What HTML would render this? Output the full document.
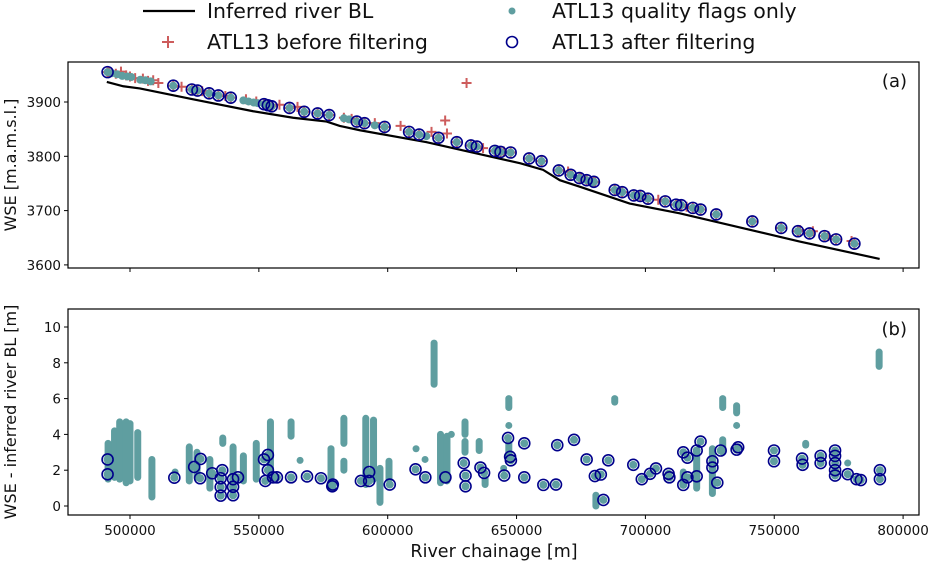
<!DOCTYPE html>
<html><head><meta charset="utf-8"><style>
body{margin:0;background:#fff;}
svg{display:block;font-family:"DejaVu Sans","Liberation Sans",sans-serif;}
</style></head><body>
<svg id="c" width="928" height="562" viewBox="0 0 928 562"></svg>
<script>
// ---- data ----
const blCh=[491000,497400,503800,524500,547800,563300,576300,581400,589200,615100,651500,660300,666800,674500,693900,713300,759900,790900];
const blWse=[3937,3929,3925,3905,3883,3871,3864,3856,3848,3826,3787,3775,3756,3744,3713,3695,3643,3611];
const afterCh=[491300,516800,524000,526200,530700,534300,539100,552000,553500,555000,561900,567600,572800,577300,588000,591000,598800,608300,612200,619700,626800,632300,634600,641600,643800,647700,654900,659700,666400,671000,674400,677200,680000,688100,691000,695500,698000,701000,707700,711900,713900,718400,721400,727500,741500,752700,759200,763700,769500,774000,781100];
const afterWse=[3955,3930,3923,3921,3916,3912,3908,3896,3894,3892,3889,3882,3879,3876,3864,3861,3854,3845,3840,3834,3826,3820,3818,3810,3808,3807,3796,3791,3774,3766,3760,3756,3753,3738,3734,3728,3727,3722,3717,3711,3710,3705,3702,3693,3680,3668,3662,3658,3653,3647,3639];
const qualCh=[493000,495000,497000,499000,500500,504000,506000,508000,544000,546000,548000,549500,583000,585000,595000,615000,642000,679500];
const qualWse=[3953,3951,3948,3947,3946,3941,3940,3938,3903,3901,3899,3898,3870,3868,3857,3837,3812,3752];
const beforeCh=[492000,494500,496500,498500,500000,502000,505000,507000,509000,511000,520000,528000,537000,545000,549000,558000,565000,583000,586000,595000,605000,617000,622300,623000,630600,637000,645000,666400,670000,675000,680500,705000,716000,741500,760000,765000,771000,780000];
const beforeWse=[3954,3952,3956,3949,3947,3944,3943,3939,3940,3935,3928,3920,3911,3905,3901,3895,3891,3871,3869,3861,3856,3845,3866,3842,3935,3815,3809,3774,3772,3760,3752,3720,3707,3680,3664,3662,3653,3644];
const resCh=[491300,491300,517200,524900,527400,527200,531900,535800,535200,535200,535200,540000,540000,540000,541900,552000,553500,553500,552500,555500,557000,562500,568700,574100,578500,578700,589600,592800,592800,600800,610800,614600,622400,629500,630200,630200,636000,637400,645200,646700,647500,647800,653000,653000,660400,665300,665800,672300,677200,680400,682700,683700,685600,695300,698600,701800,704100,709000,709300,714700,714700,716300,716300,719900,719900,721400,726000,726000,727900,729200,735400,736000,749900,749900,760800,761000,768000,768000,773600,773600,773600,773600,773600,778500,781900,783600,791000,791000];
const resVal=[2.6,1.77,1.58,2.18,2.63,1.55,1.83,2.0,1.55,1.06,0.58,1.5,1.07,0.6,1.6,2.6,2.85,2.0,1.4,1.6,1.6,1.6,1.65,1.55,1.1,1.2,1.4,1.9,1.4,1.2,2.05,1.6,1.6,2.4,1.7,1.1,2.15,1.85,1.7,3.8,2.75,2.55,3.5,1.6,1.18,1.2,3.4,3.7,2.6,1.67,1.76,0.34,2.55,2.3,1.5,1.8,2.1,1.8,1.6,3.0,1.18,2.7,1.6,3.1,1.66,3.6,2.5,2.15,1.3,3.1,3.15,3.28,3.1,2.5,2.65,2.3,2.8,2.4,3.1,2.8,2.4,2.0,1.7,1.78,1.5,1.45,2.0,1.5];
const clCh=[491500,494000,496000,498500,500000,503000,508500,517500,523000,526000,531000,536000,540000,544000,549000,554500,562500,566000,578000,583000,583000,591500,594500,597000,600500,611000,614500,618000,620500,623000,624700,630000,630000,635500,637800,645000,647000,647000,647000,680800,688100,714700,719900,726000,730000,730000,735400,735400,762200,778500,790700];
const clLo=[1.5,1.6,1.5,1.3,1.4,1.6,0.5,1.9,1.4,1.6,1.0,3.5,1.0,1.4,1.5,1.6,3.9,2.55,1.0,3.5,2.0,1.2,1.5,0.2,1.5,3.2,2.6,6.8,1.3,1.4,4.0,4.0,3.0,3.1,1.2,2.1,5.5,4.5,2.8,0.0,5.8,1.2,1.0,0.7,5.5,3.0,5.2,4.5,3.4,2.4,7.8];
const clHi=[3.5,4.2,4.7,4.7,4.6,4.1,2.6,1.9,3.3,3.0,2.6,3.8,3.3,2.8,3.5,4.7,4.7,2.55,3.2,4.9,2.5,4.9,4.8,2.1,2.5,3.2,2.6,9.1,4.0,3.9,4.0,4.7,3.6,3.6,1.5,2.1,6.0,4.5,3.5,0.6,6.0,1.9,3.0,3.2,6.0,3.7,5.6,4.5,3.5,2.4,8.6];
const xTicks=[500000,550000,600000,650000,700000,750000,800000];
const yTopTicks=[3600,3700,3800,3900];
const yBotTicks=[0,2,4,6,8,10];

// ---- axes ----
const X0=68,X1=919;
const sx=v=>130+(v-500000)*0.002577;
const syT=v=>102+(3900-v)*0.543;
const syB=v=>506-v*17.9;
const NS='http://www.w3.org/2000/svg';
const svg=document.getElementById('c');
function mk(tag,attrs,parent){const e=document.createElementNS(NS,tag);for(const k in attrs)e.setAttribute(k,attrs[k]);(parent||svg).appendChild(e);return e;}
const TEAL='#5f9ea0',RED='#cd5c5c',NAVY='#00008b';

function panel(name){
  const g=mk('g',{});
  
  
  return g;
}
// top panel
const gT=panel('panel-a');
const bl=mk('polyline',{points:blCh.map((c,i)=>sx(c)+','+syT(blWse[i])).join(' '),fill:'none',stroke:'#000','stroke-width':2.2},gT);


function cross(g,x,y,s){const p=mk('path',{d:`M${x-s},${y}H${x+s}M${x},${y-s}V${y+s}`,stroke:RED,'stroke-width':2,fill:'none'},g);return p;}
beforeCh.forEach((c,i)=>{const p=cross(gT,sx(c),syT(beforeWse[i]),5);

});
afterCh.forEach((c,i)=>{const p=cross(gT,sx(c),syT(afterWse[i]),5);

});
qualCh.forEach((c,i)=>{const e=mk('circle',{cx:sx(c),cy:syT(qualWse[i]),r:4,fill:TEAL},gT);

});
afterCh.forEach((c,i)=>{const e=mk('circle',{cx:sx(c),cy:syT(afterWse[i]),r:4,fill:TEAL},gT);

});
afterCh.forEach((c,i)=>{const e=mk('circle',{cx:sx(c),cy:syT(afterWse[i]),r:5.5,fill:'none',stroke:NAVY,'stroke-width':1.6},gT);

});
// bottom panel
const gB=panel('panel-b');
clCh.forEach((c,i)=>{const x=sx(c),y1=syB(clHi[i]),y2=syB(clLo[i]);
const e=mk('rect',{x:x-3.5,y:y1-3.5,width:7,height:y2-y1+7,rx:3.5,fill:TEAL},gB);

});
resCh.forEach((c,i)=>{const e=mk('circle',{cx:sx(c),cy:syB(resVal[i]),r:4,fill:TEAL},gB);

});
resCh.forEach((c,i)=>{const e=mk('circle',{cx:sx(c),cy:syB(resVal[i]),r:5.5,fill:'none',stroke:NAVY,'stroke-width':1.6},gB);

});

// frames & ticks
function frame(top,bot,name){const r=mk('rect',{x:X0,y:top,width:X1-X0,height:bot-top,fill:'none',stroke:'#000','stroke-width':1.2});

}
frame(62,268,'panel-a-frame');frame(309,515,'panel-b-frame');
function txt(x,y,s,size,anchor,extra){const t=mk('text',Object.assign({x:x,y:y,'font-size':size,'text-anchor':anchor||'start',fill:'#111'},extra||{}));t.textContent=s;return t;}
yTopTicks.forEach(v=>{const y=syT(v);mk('line',{x1:X0-4,x2:X0,y1:y,y2:y,stroke:'#000'});
const t=txt(X0-7,y+5,String(v),13.5,'end');

});
yBotTicks.forEach(v=>{const y=syB(v);mk('line',{x1:X0-4,x2:X0,y1:y,y2:y,stroke:'#000'});
const t=txt(X0-7,y+5,String(v),13.5,'end');

});
xTicks.forEach(v=>{const x=sx(v);mk('line',{x1:x,x2:x,y1:268,y2:272,stroke:'#000'});mk('line',{x1:x,x2:x,y1:515,y2:519,stroke:'#000'});
const t=txt(x,535,String(v),13.5,'middle');

});
let t;
t=txt(907,87,'(a)',18,'end');
t=txt(907,335,'(b)',18,'end');
t=txt(494,557,'River chainage [m]',17.5,'middle');
t=txt(0,0,'WSE [m.a.m.s.l.]',16,'middle',{transform:'translate(16,165) rotate(-90)'});
t=txt(0,0,'WSE - inferred river BL [m]',16,'middle',{transform:'translate(16,412) rotate(-90)'});

// legend
const lg=mk('g',{});


mk('line',{x1:143,x2:195,y1:11,y2:11,stroke:'#000','stroke-width':2.2},lg);
t=txt(207,18,'Inferred river BL',20.5,'start');lg.appendChild(t);
cross(lg,168,42,6);
t=txt(207,49,'ATL13 before filtering',20.5,'start');lg.appendChild(t);
mk('circle',{cx:512,cy:11,r:3.5,fill:TEAL},lg);
t=txt(552,18,'ATL13 quality flags only',20.5,'start');lg.appendChild(t);
mk('circle',{cx:512,cy:42,r:5.5,fill:'none',stroke:NAVY,'stroke-width':1.6},lg);
t=txt(552,49,'ATL13 after filtering',20.5,'start');lg.appendChild(t);
</script>
</body></html>
